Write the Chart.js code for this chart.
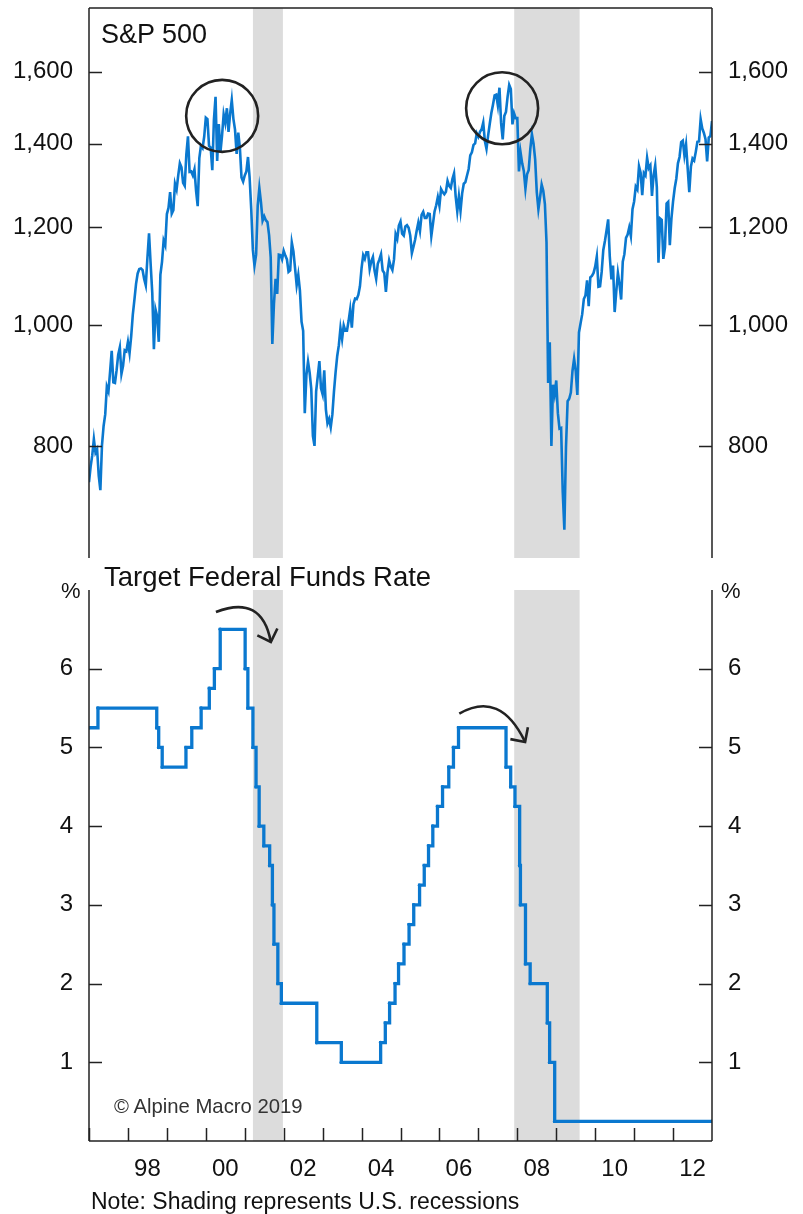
<!DOCTYPE html>
<html>
<head>
<meta charset="utf-8">
<title>S&amp;P 500 and Target Federal Funds Rate</title>
<script src="https://cdn.jsdelivr.net/npm/chart.js"></script>
<style>
    body {
        margin: 0;
        background-color: #ffffff;
        font-family: Arial, "Liberation Sans", sans-serif;
    }
    #page {
        position: relative;
        width: 803px;
        height: 1214px;
        overflow: hidden;
    }
    canvas {
        position: absolute;
        left: 0;
    }
    #spxCanvas { top: 0; }
    #fedCanvas { top: 570px; }
    .lbl {
        position: absolute;
        white-space: nowrap;
        color: #111111;
    }
    .title { font-size: 27px; line-height: 27px; }
    .pct { font-size: 22px; line-height: 22px; }
</style>
</head>
<body>
<div id="page">
    <canvas id="spxCanvas" width="803" height="570"></canvas>
    <canvas id="fedCanvas" width="803" height="644"></canvas>

    <div class="lbl title" style="left:101px; top:21px;">S&amp;P 500</div>
    <div class="lbl title" style="left:104px; top:563px; font-size:27.5px;">Target Federal Funds Rate</div>
    <div class="lbl pct" style="left:61px; top:580px;">%</div>
    <div class="lbl pct" style="left:721px; top:580px;">%</div>
    <div class="lbl" style="left:114px; top:1096px; font-size:20.3px; line-height:20px; color:#333333;">© Alpine Macro 2019</div>
    <div class="lbl" style="left:91px; top:1190px; font-size:23px; line-height:23px;">Note: Shading represents U.S. recessions</div>
</div>

<script>
    // S&P 500, two readings per month (mid-month, month-end), per year
    var spxStart = 748;
    var spx1997 = [770, 786, 810, 790, 795, 757, 737, 801, 830, 848, 893, 885, 918, 954, 900, 899, 920, 947, 960, 914, 928, 955, 953, 970];
    var spx1998 = [950, 980, 1020, 1049, 1080, 1101, 1110, 1111, 1108, 1090, 1077, 1133, 1186, 1120, 1062, 957, 1030, 1017, 970, 1098, 1125, 1170, 1160, 1229];
    var spx1999 = [1243, 1280, 1230, 1238, 1300, 1286, 1320, 1350, 1340, 1302, 1295, 1373, 1419, 1329, 1330, 1320, 1335, 1283, 1247, 1363, 1395, 1389, 1418, 1469];
    var spx2000 = [1465, 1394, 1390, 1333, 1464, 1527, 1356, 1452, 1378, 1421, 1478, 1455, 1495, 1431, 1480, 1518, 1466, 1437, 1374, 1429, 1389, 1315, 1305, 1320];
    var spx2001 = [1330, 1366, 1315, 1240, 1150, 1117, 1140, 1249, 1290, 1256, 1214, 1224, 1215, 1211, 1182, 1134, 966, 1041, 1090, 1060, 1140, 1139, 1130, 1148];
    var spx2002 = [1138, 1130, 1104, 1107, 1166, 1147, 1112, 1077, 1098, 1067, 1007, 990, 850, 912, 935, 916, 889, 815, 800, 885, 910, 936, 890, 880];
    var spx2003 = [920, 856, 834, 841, 828, 848, 885, 917, 945, 964, 995, 975, 1000, 990, 990, 1008, 1030, 996, 1040, 1051, 1050, 1058, 1075, 1112];
    var spx2004 = [1139, 1131, 1145, 1145, 1110, 1126, 1135, 1107, 1090, 1121, 1130, 1141, 1107, 1102, 1064, 1104, 1128, 1115, 1108, 1130, 1184, 1174, 1203, 1212];
    var spx2005 = [1185, 1181, 1201, 1204, 1198, 1181, 1143, 1157, 1172, 1192, 1210, 1191, 1227, 1234, 1220, 1220, 1230, 1229, 1180, 1207, 1235, 1249, 1268, 1248];
    var spx2006 = [1287, 1280, 1275, 1281, 1307, 1295, 1290, 1311, 1325, 1270, 1235, 1270, 1236, 1277, 1300, 1304, 1320, 1336, 1370, 1378, 1397, 1401, 1427, 1418];
    var spx2007 = [1431, 1438, 1456, 1407, 1387, 1421, 1452, 1482, 1505, 1531, 1533, 1503, 1553, 1455, 1411, 1474, 1485, 1527, 1561, 1549, 1451, 1481, 1468, 1468];
    var spx2008 = [1330, 1378, 1350, 1331, 1288, 1323, 1333, 1386, 1425, 1400, 1360, 1280, 1240, 1267, 1298, 1283, 1252, 1166, 899, 969, 800, 896, 880, 903];
    var spx2009 = [850, 826, 827, 735, 685, 798, 869, 873, 883, 919, 940, 919, 879, 987, 1004, 1021, 1050, 1057, 1087, 1036, 1093, 1096, 1102, 1115];
    var spx2010 = [1136, 1074, 1075, 1104, 1150, 1169, 1192, 1217, 1136, 1089, 1117, 1025, 1065, 1102, 1079, 1049, 1125, 1141, 1176, 1183, 1199, 1180, 1240, 1258];
    var spx2011 = [1293, 1286, 1343, 1327, 1273, 1326, 1320, 1364, 1338, 1345, 1271, 1321, 1345, 1292, 1123, 1219, 1216, 1131, 1155, 1253, 1257, 1160, 1219, 1258];
    var spx2012 = [1289, 1312, 1350, 1366, 1404, 1408, 1370, 1398, 1338, 1280, 1342, 1362, 1357, 1379, 1405, 1406, 1465, 1440, 1428, 1412, 1355, 1416, 1420, 1460];
    var spxTicks = [800, 1000, 1200, 1400, 1600];

    // Target federal funds rate: date of each change and new level
    var fedDates = [1997.0, 1997.23, 1998.74, 1998.79, 1998.88, 1999.49, 1999.64, 1999.88, 2000.09, 2000.22, 2000.37,
        2001.01, 2001.08, 2001.21, 2001.29, 2001.37, 2001.49, 2001.64, 2001.71, 2001.75, 2001.85, 2001.94,
        2002.85, 2003.48, 2004.49, 2004.61, 2004.72, 2004.86, 2004.95, 2005.09, 2005.22, 2005.34, 2005.49,
        2005.61, 2005.72, 2005.83, 2005.95, 2006.08, 2006.24, 2006.36, 2006.49, 2007.71, 2007.83, 2007.94,
        2008.06, 2008.08, 2008.21, 2008.33, 2008.77, 2008.83, 2008.96, 2013.0];
    var fedRates = [5.25, 5.5, 5.25, 5.0, 4.75, 5.0, 5.25, 5.5, 5.75, 6.0, 6.5,
        6.0, 5.5, 5.0, 4.5, 4.0, 3.75, 3.5, 3.0, 2.5, 2.0, 1.75,
        1.25, 1.0, 1.25, 1.5, 1.75, 2.0, 2.25, 2.5, 2.75, 3.0, 3.25,
        3.5, 3.75, 4.0, 4.25, 4.5, 4.75, 5.0, 5.25, 4.75, 4.5, 4.25,
        3.5, 3.0, 2.25, 2.0, 1.5, 1.0, 0.25, 0.25];
    var fedTicks = [1, 2, 3, 4, 5, 6];

    // x axis: tick marks every year, labels every other year
    var tickYears = [1997, 1998, 1999, 2000, 2001, 2002, 2003, 2004, 2005, 2006, 2007, 2008, 2009, 2010, 2011, 2012];
    var labelYears = [1998, 2000, 2002, 2004, 2006, 2008, 2010, 2012];

    // recessions
    var recessionStarts = [2001.21, 2007.92];
    var recessionEnds = [2001.98, 2009.6];

    var lineBlue = '#0a78cf';
    var fontFamily = 'Arial, "Liberation Sans", sans-serif';

    var spxPoints = [{ x: 1997, y: spxStart }];
    [spx1997, spx1998, spx1999, spx2000, spx2001, spx2002, spx2003, spx2004,
     spx2005, spx2006, spx2007, spx2008, spx2009, spx2010, spx2011, spx2012].forEach(function(vals, k) {
        vals.forEach(function(v, i) {
            spxPoints.push({ x: 1997 + k + (i + 1) / 24, y: v });
        });
    });

    var fedPoints = fedDates.map(function(d, i) { return { x: d, y: fedRates[i] }; });

    // shading, frame, inward ticks and hand-drawn marks
    var panelDecor = {
        id: 'panelDecor',
        beforeDatasetsDraw: function(chart) {
            var a = chart.chartArea, xs = chart.scales.x, c = chart.ctx;
            c.save();
            c.fillStyle = '#dcdcdc';
            for (var i = 0; i < recessionStarts.length; i++) {
                var x0 = xs.getPixelForValue(recessionStarts[i]);
                var x1 = xs.getPixelForValue(recessionEnds[i]);
                c.fillRect(x0, a.top, x1 - x0, a.bottom - a.top);
            }
            c.restore();
        },
        afterDatasetsDraw: function(chart, args, opts) {
            var a = chart.chartArea, xs = chart.scales.x, ys = chart.scales.y, c = chart.ctx;
            c.save();
            c.strokeStyle = '#222222';
            c.lineWidth = 1.5;
            c.beginPath();
            c.moveTo(a.left, a.top); c.lineTo(a.left, a.bottom);
            c.moveTo(a.right, a.top); c.lineTo(a.right, a.bottom);
            if (opts.topBorder) { c.moveTo(a.left, a.top); c.lineTo(a.right, a.top); }
            if (opts.bottomBorder) { c.moveTo(a.left, a.bottom); c.lineTo(a.right, a.bottom); }
            c.stroke();

            // y ticks pointing into the plot, both sides
            c.beginPath();
            ys.ticks.forEach(function(t) {
                var py = Math.round(ys.getPixelForValue(t.value)) + 0.5;
                c.moveTo(a.left, py); c.lineTo(a.left + 13, py);
                c.moveTo(a.right - 13, py); c.lineTo(a.right, py);
            });
            if (opts.xTicks) {
                tickYears.forEach(function(yr) {
                    var px = Math.round(xs.getPixelForValue(yr)) + 0.5;
                    c.moveTo(px, a.bottom); c.lineTo(px, a.bottom - 13);
                });
            }
            c.stroke();

            // circles
            c.strokeStyle = '#222222';
            c.lineWidth = 2.6;
            (opts.circles || []).forEach(function(ci) {
                c.beginPath();
                c.arc(xs.getPixelForValue(ci[0]), ys.getPixelForValue(ci[1]), ci[2], 0, Math.PI * 2);
                c.stroke();
            });

            // curved arrows
            (opts.arrows || []).forEach(function(ar) {
                var sx = xs.getPixelForValue(ar[0][0]), sy = ys.getPixelForValue(ar[0][1]);
                var cx = xs.getPixelForValue(ar[1][0]), cy = ys.getPixelForValue(ar[1][1]);
                var ex = xs.getPixelForValue(ar[2][0]), ey = ys.getPixelForValue(ar[2][1]);
                c.beginPath();
                c.moveTo(sx, sy);
                c.quadraticCurveTo(cx, cy, ex, ey);
                c.stroke();
                var ang = Math.atan2(ey - cy, ex - cx) - 0.15;
                var len = 15;
                c.beginPath();
                c.moveTo(ex - len * Math.cos(ang - Math.PI / 4), ey - len * Math.sin(ang - Math.PI / 4));
                c.lineTo(ex, ey);
                c.lineTo(ex - len * Math.cos(ang + Math.PI / 4), ey - len * Math.sin(ang + Math.PI / 4));
                c.stroke();
            });
            c.restore();
        }
    };

    function sideAxis(position, width, type, min, max, tickValues, fmt) {
        return {
            type: type,
            position: position,
            min: min,
            max: max,
            grid: { display: false, drawTicks: false },
            border: { display: false },
            afterBuildTicks: function(scale) {
                scale.ticks = tickValues.map(function(v) { return { value: v }; });
            },
            afterFit: function(scale) {
                scale.width = width;
                scale.paddingTop = 0;
                scale.paddingBottom = 0;
            },
            ticks: {
                autoSkip: false,
                padding: 16,
                color: '#111111',
                font: { family: fontFamily, size: 24 },
                callback: fmt
            }
        };
    }

    var commaFmt = function(v) { return Number(v).toLocaleString('en-US'); };
    var plainFmt = function(v) { return String(v); };

    // top panel: S&P 500 on a log scale
    var spxChart = new Chart(document.getElementById('spxCanvas').getContext('2d'), {
        type: 'line',
        data: {
            datasets: [{
                data: spxPoints,
                borderColor: lineBlue,
                borderWidth: 2.6,
                pointRadius: 0,
                tension: 0,
                yAxisID: 'y'
            }]
        },
        options: {
            responsive: false,
            animation: false,
            events: [],
            layout: { padding: { top: 8, bottom: 12, left: 0, right: 0 } },
            plugins: {
                legend: { display: false },
                tooltip: { enabled: false },
                panelDecor: {
                    topBorder: true,
                    circles: [[2000.42, 1474, 36], [2007.61, 1495, 36]]
                }
            },
            scales: {
                x: { type: 'linear', min: 1997, max: 2013, display: false },
                y: sideAxis('left', 89, 'logarithmic', 650, 1800, spxTicks, commaFmt),
                y2: sideAxis('right', 91, 'logarithmic', 650, 1800, spxTicks, commaFmt)
            }
        },
        plugins: [panelDecor]
    });

    // bottom panel: target fed funds rate as a step line
    var fedChart = new Chart(document.getElementById('fedCanvas').getContext('2d'), {
        type: 'line',
        data: {
            datasets: [{
                data: fedPoints,
                borderColor: lineBlue,
                backgroundColor: lineBlue,
                borderWidth: 3.3,
                stepped: 'before',
                pointRadius: 1.8,
                pointBorderWidth: 0,
                yAxisID: 'y'
            }]
        },
        options: {
            responsive: false,
            animation: false,
            events: [],
            layout: { padding: { top: 20, bottom: 0, left: 0, right: 0 } },
            plugins: {
                legend: { display: false },
                tooltip: { enabled: false },
                panelDecor: {
                    bottomBorder: true,
                    xTicks: true,
                    arrows: [
                        [[2000.26, 6.72], [2001.44, 6.95], [2001.67, 6.34]],
                        [[2006.51, 5.43], [2007.56, 5.73], [2008.20, 5.07]]
                    ]
                }
            },
            scales: {
                x: {
                    type: 'linear',
                    min: 1997,
                    max: 2013,
                    grid: { display: false, drawTicks: false },
                    border: { display: false },
                    afterBuildTicks: function(scale) {
                        scale.ticks = labelYears.map(function(yr) { return { value: yr + 0.5 }; });
                    },
                    afterFit: function(scale) {
                        scale.height = 73;
                        scale.paddingLeft = 0;
                        scale.paddingRight = 0;
                    },
                    ticks: {
                        autoSkip: false,
                        maxRotation: 0,
                        padding: 14,
                        color: '#111111',
                        font: { family: fontFamily, size: 24 },
                        callback: function(v) { return String(Math.floor(v)).slice(2); }
                    }
                },
                y: sideAxis('left', 89, 'linear', 0, 7, fedTicks, plainFmt),
                y2: sideAxis('right', 91, 'linear', 0, 7, fedTicks, plainFmt)
            }
        },
        plugins: [panelDecor]
    });
</script>
</body>
</html>
